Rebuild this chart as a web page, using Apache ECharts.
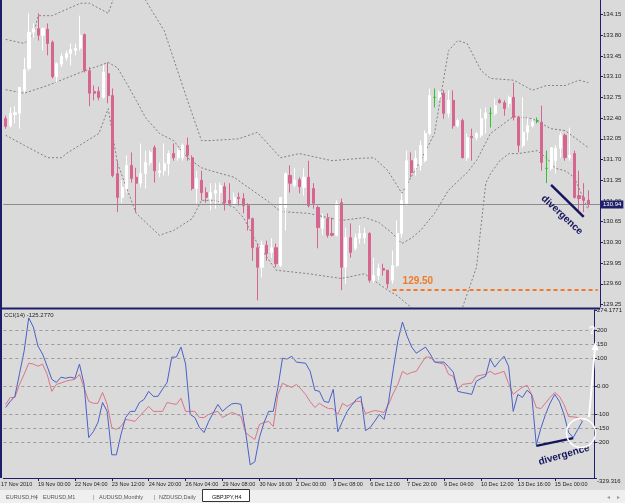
<!DOCTYPE html>
<html>
<head>
<meta charset="utf-8">
<script src="https://cdn.jsdelivr.net/npm/echarts@6/dist/echarts.min.js"></script>
<style>
  html, body { margin: 0; padding: 0; background: #dadada; }
  #main { width: 625px; height: 503px; }
</style>
</head>
<body>
<div id="main"></div>
<script>
// GBPJPY H4 candles (bar 0 = first full candle on the left)
var candleOpen = [132.39,132.27,132.46,132.48,132.87,133.24,133.85,133.91,133.80,133.90,
  133.68,133.10,133.31,133.42,133.49,133.54,133.58,133.81,133.20,132.85,
  132.85,132.75,133.15,132.78,131.46,131.06,131.21,131.60,131.40,131.30,
  131.46,131.65,131.90,131.48,131.51,131.63,131.80,131.73,131.73,131.94,
  131.73,131.21,131.35,131.14,131.04,131.13,131.14,131.24,131.01,130.96,
  131.06,131.04,130.92,130.70,130.21,129.88,130.25,130.13,130.21,129.91,
  130.89,131.43,131.26,131.36,131.23,131.40,131.21,130.89,130.54,130.70,
  130.45,130.42,130.97,129.88,130.38,130.20,130.37,130.38,130.45,129.66,
  129.74,129.86,129.83,129.66,129.91,130.45,130.96,131.68,131.56,131.60,
  131.68,132.14,132.75,132.75,132.82,132.48,132.70,132.27,132.36,131.73,
  132.09,132.07,132.11,132.39,132.48,132.48,132.70,132.66,132.65,132.75,
  132.41,131.94,132.16,132.27,132.36,132.33,131.55,131.55,131.68,131.89,
  132.11,131.73,131.80,131.09,131.06,131.01];
var candleClose = [132.26,132.48,132.49,132.92,133.22,133.85,133.91,133.80,133.91,133.66,
  133.10,133.32,133.44,133.49,133.56,133.58,133.80,133.20,132.82,132.82,
  132.75,133.17,132.78,131.43,131.06,131.23,131.60,131.38,131.30,131.46,
  131.65,131.82,131.51,131.51,131.63,131.80,131.73,131.85,131.94,131.77,
  131.21,131.38,131.14,131.06,131.14,131.18,131.26,130.97,130.96,131.06,
  131.04,130.92,130.70,130.21,129.88,130.25,130.11,130.21,129.94,131.06,
  131.46,131.30,131.35,131.24,131.40,130.92,130.96,130.55,130.70,130.42,
  130.42,130.96,129.88,130.38,130.13,130.38,130.45,130.45,129.66,129.74,
  129.86,129.83,129.60,129.91,130.45,131.01,131.68,131.48,131.72,131.94,
  132.14,132.78,132.75,132.83,132.48,132.70,132.27,132.36,131.73,132.07,
  132.07,132.14,132.39,132.49,132.48,132.61,132.66,132.56,132.75,132.41,
  131.94,132.16,132.27,132.33,132.36,131.65,131.55,131.90,131.89,132.11,
  131.73,131.77,131.06,131.04,131.01,130.94];
var candleLow = [132.22,132.24,132.31,132.22,132.82,133.20,133.76,133.71,133.54,133.46,
  133.07,133.00,133.26,133.37,133.29,133.46,133.54,133.17,132.60,132.70,
  132.70,132.73,132.65,131.40,130.81,130.97,131.14,131.31,130.81,131.23,
  131.21,131.60,131.31,131.40,131.43,131.43,131.68,131.68,131.68,131.68,
  131.18,130.96,131.01,130.97,130.84,130.87,130.96,130.84,130.92,130.92,
  130.92,130.79,130.50,129.99,129.32,129.71,129.99,130.04,129.88,129.88,
  130.50,131.14,131.23,131.13,131.09,130.89,130.87,130.20,130.42,130.38,
  130.40,130.40,129.49,129.60,130.04,130.16,130.28,130.28,129.62,129.62,
  129.66,129.74,129.52,129.60,129.88,130.38,130.92,131.40,131.43,131.51,
  131.65,132.11,132.58,132.70,132.39,132.41,132.22,132.24,131.72,131.68,
  131.68,132.02,132.07,132.14,132.24,132.44,132.65,132.44,132.58,132.36,
  131.82,131.90,132.02,132.24,132.31,131.51,131.30,131.51,131.46,131.73,
  131.68,131.68,131.04,130.79,130.81,130.89];
var candleHigh = [132.44,132.58,132.60,132.92,133.42,134.17,134.00,134.17,133.93,134.00,
  133.71,133.34,133.49,133.54,133.66,133.66,134.13,133.83,133.26,132.95,
  132.93,133.29,133.34,132.90,131.68,131.35,131.77,131.82,131.56,131.97,
  131.85,131.85,131.94,131.65,131.97,131.85,131.97,131.89,131.97,132.07,
  131.77,131.51,131.51,131.23,131.30,131.30,131.31,131.31,131.30,131.14,
  131.14,131.13,130.96,130.72,130.28,130.33,130.33,130.37,130.28,131.06,
  131.48,131.60,131.56,131.40,131.55,131.68,131.30,130.92,130.79,130.79,
  130.72,131.01,131.04,130.55,130.62,130.45,130.59,130.55,130.47,130.04,
  129.94,129.94,129.83,130.16,130.67,131.13,131.85,131.82,131.85,132.02,
  132.19,132.90,132.90,132.87,132.87,132.87,132.87,132.39,132.39,132.14,
  132.22,132.16,132.56,132.58,132.58,132.73,132.73,132.70,132.78,133.00,
  132.44,132.75,132.41,132.39,132.41,132.61,131.85,131.90,131.94,132.16,
  132.14,132.24,131.85,131.51,131.30,131.18];
// candles with open == close, drawn green by the terminal
var dojiIndex = [92, 104, 114, 116];

// Bollinger bands, [bar, price]
var upperBand = [[0,133.73],[4,133.66],[6,133.83],[7,134.13],[10,134.13],[16,134.34],[18,134.34],
  [22,134.17],[23,134.39],[25,134.64],[27,134.86],[29,134.64],[30,134.39],[34,133.88],[39,132.70],
  [42,132.02],[44,132.02],[50,132.05],[54,132.16],[59,131.73],[63,131.80],[70,131.68],[76,131.72],
  [79,131.73],[82,131.51],[85,131.13],[89,131.68],[92,132.14],[95,133.54],[97,133.71],[99,133.66],
  [102,133.20],[104,133.07],[109,133.04],[113,132.87],[116,132.95],[120,132.95],[123,133.04],[125,133.00]];
var midBand = [[0,132.88],[4,132.82],[9,132.95],[16,133.17],[22,133.34],[24,133.25],[26,132.98],
  [28,132.70],[30,132.41],[33,132.14],[36,132.02],[39,131.73],[42,131.56],[44,131.51],[49,131.40],
  [52,131.23],[56,131.01],[59,130.82],[65,130.79],[69,130.72],[72,130.67],[77,130.72],[80,130.64],
  [83,130.45],[85,130.28],[87,130.37],[89,130.50],[92,130.79],[95,131.18],[99,131.48],[101,131.68],
  [104,132.14],[109,132.43],[113,132.39],[117,132.22],[120,132.19],[125,131.90]];
var lowerBand = [[0,132.11],[4,131.94],[9,131.73],[12,131.73],[13,131.80],[20,132.14],[22,132.56],
  [24,131.63],[28,130.79],[33,130.42],[36,130.50],[40,130.70],[42,131.01],[45,131.01],[49,130.89],
  [51,130.72],[54,130.28],[58,129.83],[65,129.77],[72,129.69],[77,129.77],[80,129.60],[82,129.49],
  [84,129.40],[87,129.20],[90,128.98],[93,128.73],[96,129.01],[98,129.20],[101,129.88],[103,131.30],
  [104,131.46],[106,131.68],[108,131.80],[110,131.80],[114,131.85],[116,131.73],[118,131.55],
  [120,131.51],[122,131.40],[125,130.84]];

// CCI(14) and its signal line, one value per bar
var cciMain = [-76,-54,-36,45,126,246,213,145,116,72,
  25,14,33,29,33,29,80,7,-184,-163,
  -130,-58,-90,-246,-246,-173,-112,-90,-90,-58,
  -47,-18,-36,-36,-10,14,105,105,141,80,
  -101,-112,-148,-166,-126,-95,-65,-90,-75,-63,
  -61,-65,-163,-282,-271,-184,-130,-90,-90,-4,
  101,98,108,87,85,83,54,-14,-18,-54,
  -58,-11,-163,-126,-90,-68,-47,-36,-159,-148,
  -125,-101,-119,-54,60,163,231,180,141,119,
  130,141,116,87,87,87,70,51,-18,-22,
  -25,-29,18,28,36,98,69,90,108,72,
  -90,-29,-40,-14,-30,-210,-150,-101,-60,-29,
  -54,-101,-166,-184,-155,-125];
var cciSignal = [-65,-40,-40,7,43,83,80,72,80,43,
  -18,7,12,18,22,25,43,-5,-54,-61,
  -61,-22,-65,-148,-155,-144,-119,-122,-126,-108,
  -90,-72,-90,-90,-90,-58,-62,-65,-43,-90,
  -90,-90,-112,-112,-101,-94,-90,-112,-103,-94,
  -100,-108,-166,-180,-191,-137,-130,-126,-144,-29,
  11,3,-4,7,-10,-29,-55,-76,-61,-72,
  -80,-80,-101,-61,-72,-62,-54,-54,-98,-92,
  -87,-90,-94,-65,-25,7,54,43,50,54,
  80,105,105,87,83,80,43,36,-11,7,
  9,11,36,40,43,54,43,48,54,10,
  -29,-15,-4,4,-30,-76,-80,-60,-40,-22,
  -36,-65,-108,-110,-112,-126];
var cciLevels = [200, 150, 100, 0, -100, -150, -200];

var priceTicks = [134.15,133.80,133.45,133.10,132.75,132.40,132.05,131.70,131.35,131.00,130.65,130.30,129.95,129.60,129.25];
var cciTicks = [274.1771, 200, 150, 100, 0, -100, -150, -200, -329.316];
var timeLabels = ['17 Nov 2010','19 Nov 00:00','22 Nov 04:00','23 Nov 12:00','24 Nov 20:00','26 Nov 04:00',
  '29 Nov 08:00','30 Nov 16:00','2 Dec 00:00','3 Dec 08:00','6 Dec 12:00','7 Dec 20:00','9 Dec 04:00',
  '10 Dec 12:00','13 Dec 16:00','15 Dec 00:00'];
var supportLevel = 129.50;
var tabNames = ['EURUSD,H4', 'EURUSD,M1', 'AUDUSD,Monthly', 'NZDUSD,Daily', 'GBPJPY,H4'];

var navy = '#1e1e6a';
var font = 'Liberation Sans';
var slotCount = 128; // bars plus the empty chart shift on the right
var cats = [];
for (var i = 0; i < slotCount; i++) cats.push(String(i));
var lastPrice = candleClose[candleClose.length - 1];

var candleData = candleOpen.map(function (o, i) {
  var item = { value: [o, candleClose[i], candleLow[i], candleHigh[i]] };
  if (dojiIndex.indexOf(i) >= 0) {
    item.itemStyle = { color: '#2fc42f', color0: '#2fc42f', borderColor: '#2fc42f', borderColor0: '#2fc42f' };
  }
  return item;
});

function isTimeTick(idx) {
  return idx >= 7 && (idx - 7) % 8 === 0 && (idx - 7) / 8 + 1 < timeLabels.length;
}

function bandSeries(data) {
  return {
    type: 'line', xAxisIndex: 0, yAxisIndex: 0, data: data, showSymbol: false, silent: true,
    lineStyle: { color: '#808080', width: 1, type: [2, 2] }, z: 1
  };
}

function tabText(x, text, fill) {
  return { type: 'text', x: x, y: 494, z: 43,
    style: { text: text, fontSize: 5.5, fontFamily: font, fill: fill || '#555' } };
}

var chart = echarts.init(document.getElementById('main'));
chart.setOption({
  animation: false,
  backgroundColor: '#dadada',
  grid: [
    { left: 3.33, right: 25, top: 0, height: 307 },
    { left: 3.33, right: 25, top: 310, height: 168 }
  ],
  xAxis: [
    { gridIndex: 0, type: 'category', data: cats, boundaryGap: true,
      axisLine: { show: false }, axisTick: { show: false }, axisLabel: { show: false } },
    { gridIndex: 1, type: 'category', data: cats, boundaryGap: true,
      axisLine: { show: true, onZero: false, lineStyle: { color: navy, width: 1 } },
      axisTick: { show: true, length: 3, alignWithLabel: true, interval: isTimeTick, lineStyle: { color: navy } },
      axisLabel: {
        interval: isTimeTick, align: 'left', margin: 3, fontSize: 5.5, color: '#222', fontFamily: font,
        formatter: function (v, idx) { return timeLabels[(idx - 7) / 8 + 1]; }
      } }
  ],
  yAxis: [
    { gridIndex: 0, type: 'value', position: 'right', min: 129.208, max: 134.395,
      splitLine: { show: false },
      axisLine: { show: true, lineStyle: { color: navy, width: 1 } },
      axisTick: { show: true, length: 3, customValues: priceTicks, lineStyle: { color: navy } },
      axisLabel: { customValues: priceTicks, margin: 3, fontSize: 6, color: '#222', fontFamily: font,
        formatter: function (v) { return v.toFixed(2); } } },
    { gridIndex: 1, type: 'value', position: 'right', min: -329.316, max: 274.1771,
      splitLine: { show: false },
      axisLine: { show: true, lineStyle: { color: navy, width: 1 } },
      axisTick: { show: true, length: 3, customValues: cciTicks, lineStyle: { color: navy } },
      axisLabel: { customValues: cciTicks, margin: 3, fontSize: 6, color: '#222', fontFamily: font,
        verticalAlignMaxLabel: 'top',
        formatter: function (v) { return v === 0 ? '0.00' : String(v); } } }
  ],
  series: [
    bandSeries(upperBand),
    bandSeries(midBand),
    bandSeries(lowerBand),
    {
      type: 'candlestick', xAxisIndex: 0, yAxisIndex: 0, data: candleData, barWidth: 2.6, z: 3,
      itemStyle: { color: '#ffffff', color0: '#d6668f', borderColor: '#ffffff', borderColor0: '#d6668f', borderWidth: 1 },
      markLine: {
        silent: true, symbol: ['none', 'none'], animation: false,
        label: { show: false },
        data: [
          { yAxis: lastPrice, lineStyle: { color: '#8c8c8c', type: 'solid', width: 1 },
            label: { show: true, position: 'end', distance: 1, formatter: lastPrice.toFixed(2),
              backgroundColor: navy, color: '#ffffff', fontSize: 6, fontFamily: font, padding: [1, 2] } },
          [{ coord: [83, supportLevel], lineStyle: { color: '#f07a2a', type: [4, 3], width: 2 },
             label: { show: true, position: 'insideStartTop', distance: [10, 3], formatter: supportLevel.toFixed(2),
               color: '#f07a2a', fontSize: 10, fontWeight: 'bold', fontFamily: font } },
           { coord: [127, supportLevel] }],
          [{ coord: [117, 131.27], lineStyle: { color: '#15155e', type: 'solid', width: 2.5 } },
           { coord: [124, 130.73] }]
        ]
      }
    },
    {
      type: 'line', xAxisIndex: 1, yAxisIndex: 1, data: cciSignal, showSymbol: false, silent: true,
      lineStyle: { color: '#dc7486', width: 1 }, z: 2
    },
    {
      type: 'line', xAxisIndex: 1, yAxisIndex: 1, data: cciMain, showSymbol: false, silent: true,
      lineStyle: { color: '#4a60c6', width: 1 }, z: 3,
      markLine: {
        silent: true, symbol: ['none', 'none'], animation: false, label: { show: false },
        lineStyle: { color: '#9c9c9c', type: [3, 3], width: 1 },
        data: cciLevels.map(function (l) { return { yAxis: l }; }).concat([
          [{ coord: [115, -214], lineStyle: { color: '#15155e', type: 'solid', width: 2.5 } },
           { coord: [123, -186] }]
        ])
      }
    }
  ],
  graphic: [
    { type: 'line', shape: { x1: 1, y1: 0, x2: 1, y2: 478 }, style: { stroke: navy, lineWidth: 2 }, z: 50 },
    { type: 'line', shape: { x1: 0, y1: 308.5, x2: 600, y2: 308.5 }, style: { stroke: navy, lineWidth: 2 }, z: 50 },
    { type: 'text', x: 1, y: 481.5, style: { text: timeLabels[0], fontSize: 5.5, fontFamily: font, fill: '#222' } },
    { type: 'text', x: 4, y: 312, style: { text: 'CCI(14) -125.2770', fontSize: 6, fontFamily: font, fill: '#222' }, z: 50 },
    // hand-drawn annotations
    { type: 'text', x: 562, y: 215, rotation: -0.75, z: 60,
      style: { text: 'divergence', fontSize: 10, fontWeight: 'bold', fontFamily: font, fill: '#15155e', align: 'center', verticalAlign: 'middle' } },
    { type: 'text', x: 564, y: 455, rotation: 0.28, z: 60,
      style: { text: 'divergence', fontSize: 10, fontWeight: 'bold', fontFamily: font, fill: '#15155e', align: 'center', verticalAlign: 'middle' } },
    { type: 'circle', shape: { cx: 581, cy: 433, r: 14.5 }, style: { fill: 'none', stroke: '#ffffff', lineWidth: 1.5 }, z: 60 },
    { type: 'line', shape: { x1: 589, y1: 417, x2: 595, y2: 348 }, style: { stroke: '#ffffff', lineWidth: 2 }, z: 60 },
    { type: 'polygon', shape: { points: [[595.6, 341], [591.5, 350], [598.5, 350.5]] }, style: { fill: '#ffffff' }, z: 60 },
    { type: 'text', x: 592, y: 331, style: { text: '?', fontSize: 11, fontWeight: 'bold', fontFamily: font, fill: '#ffffff', align: 'center', verticalAlign: 'middle' }, z: 60 },
    // terminal tab bar
    { type: 'rect', shape: { x: 0, y: 490, width: 625, height: 13 }, style: { fill: '#efefef' }, z: 40 },
    tabText(6, tabNames[0]),
    tabText(36, '|', '#777'),
    tabText(43, tabNames[1]),
    tabText(93, '|', '#777'),
    tabText(99, tabNames[2]),
    tabText(154, '|', '#777'),
    tabText(159, tabNames[3]),
    { type: 'rect', shape: { x: 202.5, y: 489.5, width: 47, height: 12 }, style: { fill: '#ffffff', stroke: '#333', lineWidth: 1 }, z: 42 },
    tabText(212, tabNames[4], '#111'),
    tabText(607, '\u25C2', '#999'),
    tabText(617, '\u25B8', '#999')
  ]
});
</script>
</body>
</html>
